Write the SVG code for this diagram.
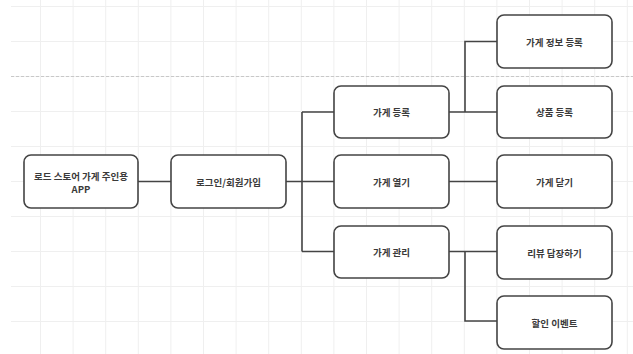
<svg xmlns="http://www.w3.org/2000/svg" width="633" height="354" viewBox="0 0 633 354">
<defs>
<pattern id="grid" x="7.4" y="6" width="32.6" height="35" patternUnits="userSpaceOnUse">
<path d="M0.5 0 V35 M0 0.5 H32.6" fill="none" stroke="#efefef" stroke-width="1"/>
</pattern>
</defs>
<style>
.node rect{fill:#fff;stroke:#444;stroke-width:1.6}
.node text{font-family:"Noto Sans CJK KR","Noto Sans",sans-serif;font-size:9.5px;font-weight:bold;fill:#3a3a3a;text-anchor:middle;dominant-baseline:central}
.conn path{fill:none;stroke:#444;stroke-width:1.6}
</style>
<rect width="633" height="354" fill="#fff"/>
<rect x="11" y="0" width="622" height="354" fill="url(#grid)"/>
<line x1="11" y1="76.5" x2="633" y2="76.5" stroke="#c8c8c8" stroke-width="1" stroke-dasharray="3,2"/>
<g id="connectors" class="conn">
<path d="M138 181.5 H171"/>
<path d="M286 181.5 H302 M302 112 V251.5 M302 112 H334 M302 181.5 H334 M302 251.5 H334"/>
<path d="M449 112 H497 M465 112 V41.5 H497"/>
<path d="M449 181.5 H497"/>
<path d="M449 251.5 H497 M465 251.5 V321 H497"/>
</g>
<g id="n-app" class="node"><rect x="24" y="155" width="114" height="53" rx="7"/><text x="81" y="175.5">로드 스토어 가게 주인용</text><text x="81" y="189">APP</text></g>
<g id="n-login" class="node"><rect x="171" y="155" width="115" height="53" rx="7"/><text x="228.5" y="181.5">로그인/회원가입</text></g>
<g id="n-reg" class="node"><rect x="334" y="86" width="115" height="52" rx="7"/><text x="391.5" y="112">가게 등록</text></g>
<g id="n-open" class="node"><rect x="334" y="155" width="115" height="53" rx="7"/><text x="391.5" y="181.5">가게 열기</text></g>
<g id="n-manage" class="node"><rect x="334" y="226" width="115" height="52" rx="7"/><text x="391.5" y="252">가게 관리</text></g>
<g id="n-info" class="node"><rect x="497" y="15" width="115" height="53" rx="7"/><text x="554.5" y="41.5">가게 정보 등록</text></g>
<g id="n-product" class="node"><rect x="497" y="86" width="115" height="52" rx="7"/><text x="554.5" y="112">상품 등록</text></g>
<g id="n-close" class="node"><rect x="497" y="155" width="115" height="53" rx="7"/><text x="554.5" y="181.5">가게 닫기</text></g>
<g id="n-review" class="node"><rect x="497" y="226" width="115" height="53" rx="7"/><text x="554.5" y="252.5">리뷰 답장하기</text></g>
<g id="n-event" class="node"><rect x="497" y="296" width="115" height="53" rx="7"/><text x="554.5" y="322.5">할인 이벤트</text></g>
</svg>
